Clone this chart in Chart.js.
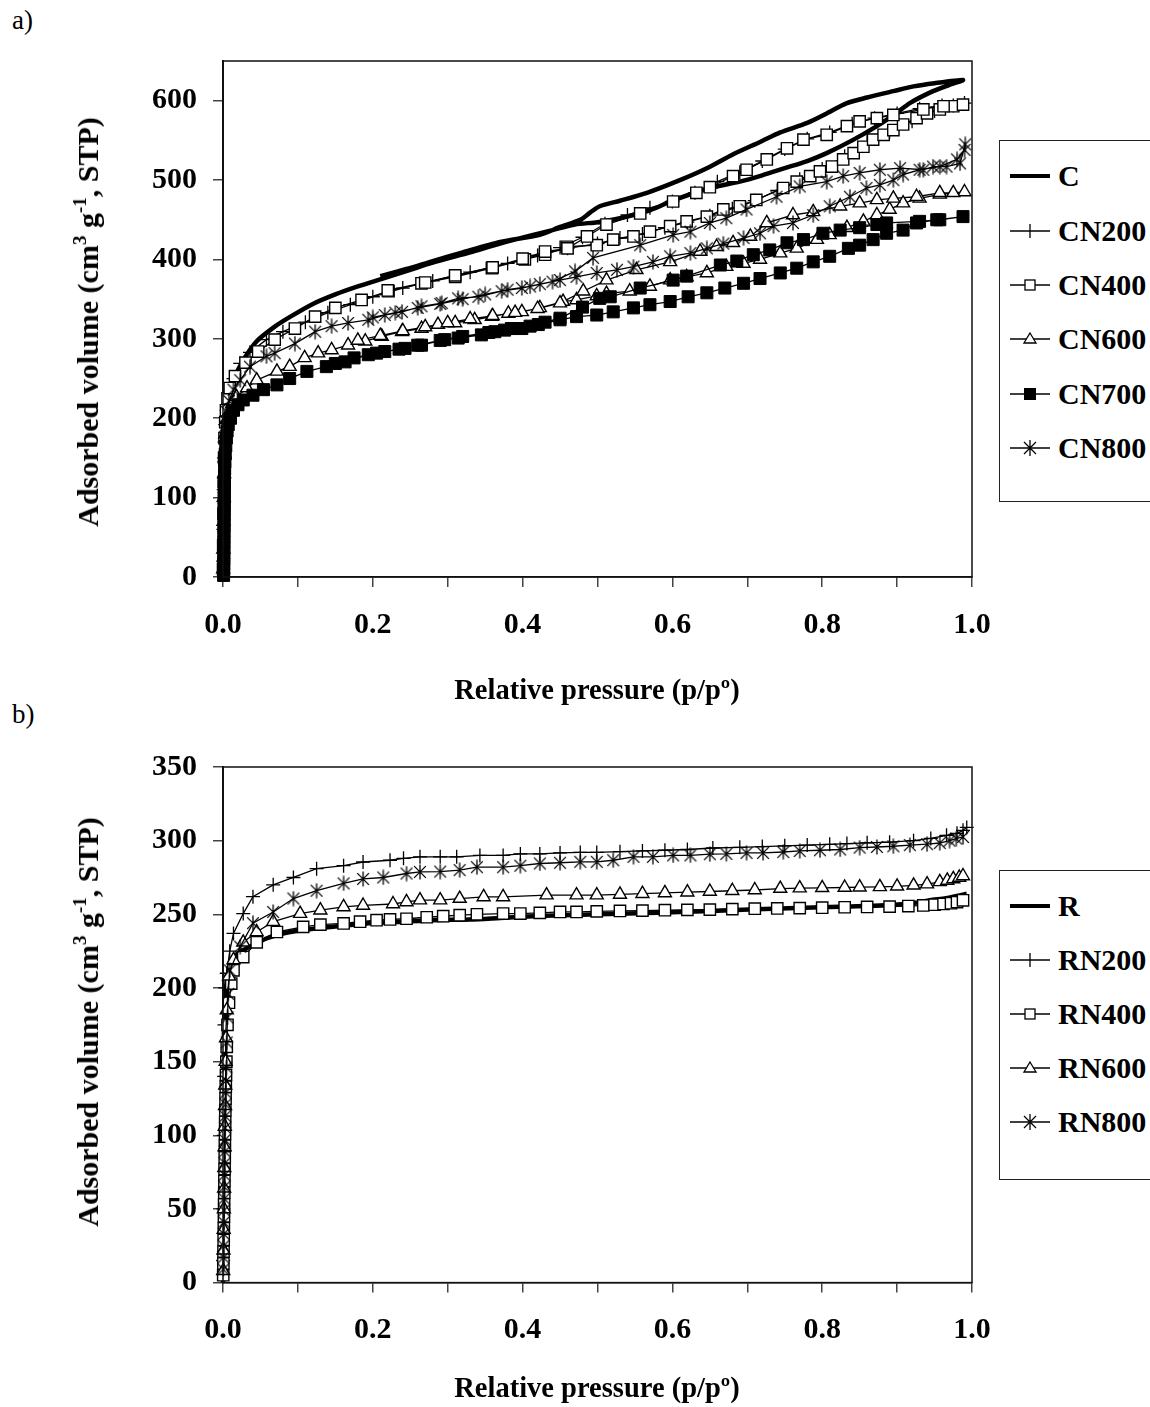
<!DOCTYPE html>
<html>
<head>
<meta charset="utf-8">
<script src="https://cdn.jsdelivr.net/npm/chart.js@4.4.0/dist/chart.umd.min.js"></script>
<style>
  html, body { margin: 0; padding: 0; background: #fff; }
  body { width: 1150px; height: 1407px; overflow: hidden; position: relative;
         font-family: "Liberation Serif", "Times New Roman", serif; color: #000; }
  canvas { position: absolute; left: 0; }
  .panel { position: absolute; left: 12px; font-size: 27px; }
  .ytitle { position: absolute; font-weight: bold; font-size: 30px; white-space: nowrap;
            transform: translate(-50%, -50%) rotate(-90deg); }
  .xtitle { position: absolute; font-weight: bold; font-size: 28.5px; white-space: nowrap;
            transform: translate(-50%, -50%); }
  sup { font-size: 19px; vertical-align: 12px; line-height: 0; }
  .legend { position: absolute; left: 999px; width: 175px; border: 1.5px solid #222; background: #fff; }
  .item { position: absolute; left: 10px; height: 30px; line-height: 30px; white-space: nowrap;
          font-weight: bold; font-size: 30px; }
  .item svg { position: absolute; left: 0; top: 5px; }
  .item span { position: absolute; left: 48px; top: 0; }
</style>
</head>
<body>
<div class="panel" style="top:5px">a)</div>
<div class="panel" style="top:699px">b)</div>

<canvas id="chartA" width="1000" height="700" style="top:0"></canvas>
<canvas id="chartB" width="1000" height="707" style="top:700px"></canvas>

<div class="ytitle" style="left:88px;top:322px">Adsorbed volume (cm<sup>3</sup> g<sup>-1</sup>, STP)</div>
<div class="xtitle" style="left:597px;top:690px">Relative pressure (p/pº)</div>
<div class="ytitle" style="left:88px;top:1022px">Adsorbed volume (cm<sup>3</sup> g<sup>-1</sup>, STP)</div>
<div class="xtitle" style="left:597px;top:1388px">Relative pressure (p/pº)</div>

<div class="legend" id="legendA" style="top:140px;height:360px"></div>
<div class="legend" id="legendB" style="top:870px;height:308px"></div>

<script>
// ---------- panel a) : C series ----------
const seriesA = ['C', 'CN200', 'CN400', 'CN600', 'CN700', 'CN800'];
const seriesB = ['R', 'RN200', 'RN400', 'RN600', 'RN800'];
const xTicks = [0, 0.2, 0.4, 0.6, 0.8, 1.0];

// adsorption branch followed by desorption branch
const cP = [0, 0.0005, 0.001, 0.002, 0.003, 0.005, 0.009, 0.015, 0.027, 0.045, 0.07, 0.09, 0.12, 0.15, 0.18, 0.21, 0.25, 0.28, 0.33, 0.37, 0.41, 0.44, 0.47, 0.50, 0.53, 0.57, 0.60, 0.65, 0.69, 0.72, 0.75, 0.78, 0.806, 0.84, 0.873, 0.9, 0.917, 0.948, 0.97, 0.988,
  0.95, 0.922, 0.895, 0.86, 0.833, 0.806, 0.78, 0.744, 0.717, 0.68, 0.646, 0.61, 0.566, 0.53, 0.503, 0.49, 0.477, 0.45, 0.423, 0.37, 0.32, 0.28, 0.245, 0.21];
const cV = [0, 100, 150, 180, 202, 218, 232, 250, 273, 297, 316, 328, 344, 356, 366, 375, 387, 396, 409, 420, 430, 437, 444, 447, 452, 462, 474, 490, 498, 506, 515, 524, 534, 550, 568, 585, 597, 612, 620, 626,
  622, 618, 612, 604, 597, 584, 572, 560, 548, 532, 515, 500, 484, 474, 467, 459, 450, 441, 431, 422, 409, 398, 388, 379];

const cn200P = [0.0002, 0.0005, 0.001, 0.0015, 0.002, 0.003, 0.005, 0.009, 0.014, 0.023, 0.036, 0.058, 0.08, 0.11, 0.14, 0.17, 0.2, 0.24, 0.28, 0.33, 0.38, 0.42, 0.46, 0.5, 0.53, 0.56, 0.59, 0.62, 0.65, 0.68, 0.71, 0.74, 0.77, 0.8, 0.83, 0.86, 0.89, 0.92, 0.95, 0.975, 0.99,
  0.96, 0.93, 0.9, 0.87, 0.84, 0.81, 0.78, 0.75, 0.72, 0.69, 0.66, 0.63, 0.6, 0.57, 0.54, 0.51, 0.48, 0.45];
const cn200V = [20, 60, 110, 145, 170, 192, 210, 232, 250, 269, 283, 299, 309, 321, 333, 343, 353, 364, 373, 384, 395, 405, 414, 420, 427, 432, 440, 447, 455, 464, 474, 487, 501, 514, 530, 548, 561, 574, 587, 594, 597,
  594, 590, 584, 578, 571, 560, 552, 539, 524, 510, 498, 484, 473, 465, 456, 445, 428, 415];

const cn400P = [0.0001, 0.0003, 0.0006, 0.001, 0.0015, 0.002, 0.003, 0.004, 0.006, 0.009, 0.016, 0.03, 0.047, 0.069, 0.096, 0.123, 0.15, 0.185, 0.221, 0.265, 0.31, 0.359, 0.403, 0.43, 0.459, 0.499, 0.521, 0.548, 0.57, 0.597, 0.619, 0.646, 0.668, 0.69, 0.712, 0.748, 0.766, 0.784, 0.797, 0.813, 0.828, 0.842, 0.855, 0.868, 0.882, 0.895, 0.908, 0.926, 0.94, 0.957, 0.975, 0.988,
  0.962, 0.935, 0.895, 0.873, 0.85, 0.833, 0.806, 0.775, 0.753, 0.726, 0.699, 0.681, 0.65, 0.632, 0.601, 0.557, 0.512, 0.486, 0.46, 0.43, 0.40, 0.36, 0.31, 0.27, 0.22];
const cn400V = [10, 40, 80, 120, 150, 175, 195, 210, 225, 238, 253, 270, 284, 299, 313, 328, 339, 349, 360, 370, 378, 389, 400, 406, 416, 418, 425, 429, 435, 442, 448, 454, 463, 467, 475, 490, 498, 505, 511, 517, 526, 534, 542, 551, 557, 563, 570, 578, 584, 589, 593, 595,
  593, 589, 582, 578, 574, 568, 557, 551, 540, 526, 513, 505, 491, 484, 473, 458, 444, 429, 414, 410, 401, 390, 380, 371, 361];

const cn600P = [0.0002, 0.0004, 0.0007, 0.001, 0.0015, 0.002, 0.003, 0.005, 0.008, 0.012, 0.018, 0.032, 0.045, 0.072, 0.089, 0.109, 0.127, 0.145, 0.167, 0.19, 0.212, 0.239, 0.265, 0.287, 0.31, 0.336, 0.359, 0.381, 0.399, 0.423, 0.454, 0.472, 0.499, 0.512, 0.543, 0.57, 0.597, 0.619, 0.646, 0.672, 0.695, 0.717, 0.744, 0.766, 0.793, 0.81, 0.833, 0.855, 0.873, 0.89, 0.908, 0.93, 0.957, 0.99,
  0.975, 0.957, 0.926, 0.895, 0.873, 0.85, 0.824, 0.788, 0.761, 0.726, 0.704, 0.681, 0.659, 0.637, 0.597, 0.552, 0.512, 0.481, 0.45, 0.42, 0.39, 0.36, 0.33, 0.3, 0.27, 0.24, 0.21, 0.18];
const cn600V = [10, 35, 70, 100, 130, 155, 180, 198, 208, 218, 227, 238, 248, 259, 265, 276, 282, 286, 292, 297, 303, 309, 313, 318, 320, 324, 328, 332, 334, 339, 347, 349, 354, 357, 360, 366, 374, 378, 383, 391, 395, 400, 408, 414, 425, 431, 440, 448, 456, 463, 471, 477, 482, 485,
  484, 484, 479, 477, 475, 471, 467, 460, 456, 446, 429, 421, 416, 410, 397, 387, 374, 360, 345, 338, 333, 329, 325, 320, 315, 310, 304, 298];

const cn700P = [0.0008, 0.0009, 0.001, 0.0011, 0.0011, 0.0012, 0.0012, 0.0013, 0.0013, 0.0014, 0.0014, 0.0015, 0.0015, 0.0016, 0.0016, 0.0017, 0.0018, 0.0019, 0.002, 0.0022, 0.0025, 0.003, 0.0037, 0.0045, 0.0055, 0.007, 0.01, 0.014, 0.02, 0.027, 0.04, 0.054, 0.072, 0.089, 0.112, 0.138, 0.163, 0.194, 0.216, 0.243, 0.265, 0.296, 0.314, 0.345, 0.363, 0.376, 0.399, 0.421, 0.45, 0.472, 0.499, 0.521, 0.548, 0.57, 0.597, 0.621, 0.646, 0.67, 0.695, 0.717, 0.744, 0.766, 0.788, 0.81, 0.835, 0.85, 0.868, 0.886, 0.908, 0.926, 0.953, 0.988,
  0.957, 0.93, 0.886, 0.873, 0.85, 0.824, 0.801, 0.775, 0.753, 0.73, 0.708, 0.686, 0.664, 0.619, 0.601, 0.557, 0.517, 0.503, 0.48, 0.45, 0.43, 0.41, 0.385, 0.355, 0.32, 0.29, 0.26, 0.235, 0.205, 0.175, 0.15];
const cn700V = [2, 9, 16, 23, 30, 37, 44, 51, 58, 65, 72, 79, 86, 93, 100, 107, 114, 121, 128, 136, 145, 155, 165, 175, 184, 192, 200, 210, 217, 223, 229, 236, 242, 250, 259, 265, 271, 280, 284, 288, 292, 299, 301, 305, 309, 311, 313, 318, 324, 328, 330, 334, 339, 343, 347, 353, 358, 364, 370, 376, 383, 389, 397, 404, 414, 418, 425, 433, 437, 446, 450, 454,
  450, 448, 446, 444, 440, 437, 433, 425, 421, 412, 406, 398, 393, 379, 374, 364, 353, 351, 340, 326, 321, 316, 313, 308, 303, 298, 292, 287, 282, 276, 269];

const cn800P = [0.0002, 0.0005, 0.001, 0.0015, 0.002, 0.003, 0.005, 0.008, 0.014, 0.023, 0.036, 0.058, 0.069, 0.096, 0.123, 0.145, 0.167, 0.194, 0.216, 0.239, 0.265, 0.292, 0.314, 0.341, 0.372, 0.399, 0.423, 0.45, 0.472, 0.499, 0.526, 0.548, 0.574, 0.597, 0.624, 0.646, 0.668, 0.695, 0.717, 0.735, 0.761, 0.788, 0.81, 0.837, 0.859, 0.877, 0.895, 0.908, 0.93, 0.957, 0.98, 0.99,
  0.991, 0.984, 0.966, 0.948, 0.935, 0.904, 0.877, 0.85, 0.828, 0.806, 0.77, 0.739, 0.699, 0.672, 0.65, 0.624, 0.601, 0.557, 0.494, 0.47, 0.44, 0.41, 0.38, 0.35, 0.32, 0.29, 0.26, 0.23, 0.2];
const cn800V = [15, 50, 100, 140, 165, 190, 208, 222, 236, 248, 265, 278, 282, 294, 309, 316, 320, 324, 330, 334, 341, 345, 351, 353, 360, 364, 369, 374, 378, 383, 387, 391, 397, 404, 408, 414, 420, 427, 433, 442, 446, 456, 467, 479, 490, 494, 500, 507, 513, 517, 526, 538,
  545, 521, 517, 517, 513, 515, 513, 509, 505, 498, 492, 479, 463, 452, 446, 435, 431, 418, 402, 385, 372, 366, 362, 356, 350, 344, 339, 333, 327];

// ---------- panel b) : R series ----------
const rP = [0, 0.0003, 0.0007, 0.001, 0.002, 0.004, 0.007, 0.014, 0.025, 0.036, 0.058, 0.08, 0.103, 0.147, 0.192, 0.24, 0.281, 0.33, 0.37, 0.43, 0.503, 0.58, 0.66, 0.744, 0.81, 0.877, 0.92, 0.944, 0.965, 0.98, 0.993];
const rV = [0, 60, 120, 160, 185, 200, 210, 221, 225, 228, 233.6, 237, 239, 241.5, 243.8, 245, 246, 246.5, 247.5, 249, 250, 251, 252.5, 254, 255, 256, 257.5, 259.6, 261, 262.5, 264];

const rn200P = [0.0002, 0.0005, 0.001, 0.0015, 0.002, 0.003, 0.005, 0.009, 0.014, 0.027, 0.04, 0.067, 0.094, 0.125, 0.161, 0.187, 0.223, 0.241, 0.263, 0.29, 0.312, 0.343, 0.374, 0.397, 0.423, 0.45, 0.477, 0.499, 0.53, 0.56, 0.59, 0.62, 0.654, 0.69, 0.72, 0.75, 0.78, 0.81, 0.833, 0.86, 0.89, 0.922, 0.945, 0.966, 0.98, 0.988, 0.993];
const rn200V = [15, 50, 100, 140, 175, 200, 210, 225, 237, 250.5, 262, 270, 275, 281, 283, 285.5, 286.7, 288, 289, 289, 289, 290, 290, 291, 291, 291.7, 292, 292, 292.5, 293, 293.5, 294, 295, 295.5, 296, 296.5, 297, 297.5, 298, 298.5, 299, 300, 301.5, 303.6, 305, 307, 309];

const rn400P = [0.0003, 0.0005, 0.0007, 0.0009, 0.0011, 0.0013, 0.0015, 0.0017, 0.0019, 0.0021, 0.0023, 0.0025, 0.0027, 0.0029, 0.0031, 0.0034, 0.0037, 0.004, 0.0045, 0.005, 0.006, 0.008, 0.011, 0.014, 0.027, 0.045, 0.072, 0.107, 0.13, 0.161, 0.183, 0.205, 0.223, 0.245, 0.272, 0.294, 0.316, 0.339, 0.374, 0.397, 0.423, 0.45, 0.472, 0.499, 0.53, 0.56, 0.59, 0.62, 0.65, 0.68, 0.71, 0.74, 0.77, 0.8, 0.83, 0.86, 0.89, 0.915, 0.935, 0.95, 0.962, 0.972, 0.98, 0.988];
const rn400V = [5, 13, 21, 29, 37, 45, 53, 61, 69, 77, 85, 93, 101, 109, 117, 125, 133, 141, 150, 160, 175, 190, 203, 212, 221, 231, 238, 241.5, 243, 243.8, 245, 246, 246.5, 247, 248, 248.7, 249.4, 250, 250.5, 250.5, 251, 251.6, 251.6, 252, 252.3, 252.5, 252.8, 253, 253.2, 253.5, 253.8, 254, 254.2, 254.5, 254.8, 255, 255.2, 255.6, 256, 256.5, 257, 257.5, 258.3, 259.5];

const rn600P = [0.0003, 0.0006, 0.0009, 0.0012, 0.0015, 0.0018, 0.0021, 0.0024, 0.0027, 0.003, 0.0035, 0.004, 0.005, 0.008, 0.014, 0.027, 0.045, 0.067, 0.103, 0.13, 0.161, 0.187, 0.227, 0.245, 0.263, 0.29, 0.316, 0.348, 0.374, 0.432, 0.472, 0.499, 0.53, 0.56, 0.59, 0.62, 0.65, 0.68, 0.71, 0.744, 0.77, 0.8, 0.83, 0.85, 0.877, 0.9, 0.922, 0.94, 0.957, 0.967, 0.975, 0.983, 0.988];
const rn600V = [8, 22, 36, 50, 64, 78, 92, 106, 120, 134, 150, 166, 185, 208, 219, 231, 238, 245, 250.5, 252.8, 255, 256, 257, 258.4, 259.6, 259.6, 260.7, 261.8, 261.8, 263, 263, 263, 263.5, 264, 264.5, 265, 265.5, 266, 266.5, 267.5, 267.8, 268, 268.2, 268.4, 268.6, 269, 269.7, 270.5, 272, 273, 274, 275, 276];

const rn800P = [0.0004, 0.0006, 0.0008, 0.001, 0.0012, 0.0014, 0.0016, 0.0018, 0.002, 0.0022, 0.0024, 0.0026, 0.0028, 0.003, 0.0033, 0.0036, 0.004, 0.0045, 0.005, 0.006, 0.007, 0.009, 0.023, 0.04, 0.067, 0.094, 0.125, 0.161, 0.187, 0.214, 0.245, 0.263, 0.29, 0.316, 0.339, 0.374, 0.397, 0.423, 0.45, 0.477, 0.499, 0.521, 0.548, 0.574, 0.601, 0.624, 0.65, 0.672, 0.699, 0.721, 0.748, 0.77, 0.797, 0.824, 0.85, 0.873, 0.895, 0.917, 0.94, 0.957, 0.97, 0.979, 0.988];
const rn800V = [9, 17, 25, 33, 41, 49, 57, 65, 73, 81, 89, 97, 105, 113, 121, 129, 137, 146, 163, 180, 196, 212, 228, 244, 251.6, 260.7, 266, 271, 274, 275, 277.7, 278.8, 279, 280, 282, 282, 283, 284.5, 285, 285.6, 285.6, 286.7, 289, 289, 290, 290, 290.8, 291, 291.7, 291.7, 292.3, 293, 293.5, 294, 295.3, 295.7, 296.2, 297, 297.6, 298.4, 300, 301.4, 302.5, 303.6];

// asterisk marker: vertical bar plus X, as in the original
function makeStar(size) {
  const c = document.createElement('canvas');
  c.width = c.height = size;
  const g = c.getContext('2d');
  const m = size / 2, r = size / 2 - 0.5, d = r * 0.78;
  g.strokeStyle = '#000';
  g.lineWidth = 1.3;
  g.beginPath();
  g.moveTo(m, m - r); g.lineTo(m, m + r);
  g.moveTo(m - d, m - d); g.lineTo(m + d, m + d);
  g.moveTo(m + d, m - d); g.lineTo(m - d, m + d);
  g.stroke();
  return c;
}
const star = makeStar(16);

const styles = {
  thick:  { pointRadius: 0, borderWidth: 4.5, tension: 0.25 },
  plus:   { pointStyle: 'cross', pointRadius: 7, pointBorderWidth: 1.3, pointBackgroundColor: '#fff' },
  square: { pointStyle: 'rect', pointRadius: 8, pointBorderWidth: 1.4, pointBackgroundColor: '#fff' },
  tri:    { pointStyle: 'triangle', pointRadius: 7.5, pointBorderWidth: 1.4, pointBackgroundColor: '#fff' },
  fill:   { pointStyle: 'rect', pointRadius: 8.5, pointBorderWidth: 1, pointBackgroundColor: '#000' },
  star:   { pointStyle: star, pointRadius: 7 },
};

function ds(label, P, V, style, i, n) {
  return Object.assign({
    label,
    data: P.map((p, k) => ({ x: p, y: V[k] })),
    showLine: true,
    borderColor: '#000',
    borderWidth: 1.3,
    pointBorderColor: '#000',
    tension: 0,
    clip: false,
    order: n - i,
  }, styles[style]);
}

const boxPlugin = {
  id: 'box',
  afterDraw(chart) {
    const a = chart.chartArea, ctx = chart.ctx;
    ctx.save();
    ctx.strokeStyle = '#111';
    ctx.lineWidth = 1.5;
    ctx.strokeRect(a.left, a.top, a.right - a.left, a.bottom - a.top);
    ctx.restore();
  }
};

const tickFont = { family: '"Liberation Serif", "Times New Roman", serif', size: 30, weight: 'bold' };

function makeChart(id, datasets, yMax, yStep, padTop, xHeight) {
  return new Chart(document.getElementById(id), {
    type: 'scatter',
    data: { datasets },
    plugins: [boxPlugin],
    options: {
      responsive: false,
      animation: false,
      devicePixelRatio: 1,
      layout: { padding: { top: padTop, right: 28, left: 0, bottom: 0 } },
      plugins: { legend: { display: false }, tooltip: { enabled: false } },
      scales: {
        x: {
          type: 'linear', min: 0, max: 1,
          afterFit: (s) => { s.height = xHeight; s.paddingLeft = 0; s.paddingRight = 0; },
          border: { display: true, color: '#111', width: 1.5 },
          grid: { drawOnChartArea: false, drawTicks: true, tickLength: 10, color: '#444', lineWidth: 1.5 },
          ticks: {
            stepSize: 0.1, padding: 20, color: '#000', font: tickFont, maxRotation: 0, autoSkip: false,
            callback: (v) => xTicks.some((t) => Math.abs(t - v) < 1e-6) ? v.toFixed(1) : ''
          }
        },
        y: {
          type: 'linear', min: 0, max: yMax,
          afterFit: (s) => { s.width = 223; s.paddingTop = 0; s.paddingBottom = 0; },
          border: { display: true, color: '#111', width: 2 },
          grid: { drawOnChartArea: false, drawTicks: true, tickLength: 10, color: '#444', lineWidth: 1.5 },
          ticks: { stepSize: yStep, includeBounds: false, padding: 16, color: '#000', font: tickFont }
        }
      }
    }
  });
}

const kindsA = ['thick', 'plus', 'square', 'tri', 'fill', 'star'];
const dataA = [[cP, cV], [cn200P, cn200V], [cn400P, cn400V], [cn600P, cn600V], [cn700P, cn700V], [cn800P, cn800V]];
makeChart('chartA', seriesA.map((s, i) => ds(s, dataA[i][0], dataA[i][1], kindsA[i], i, seriesA.length)), 650, 100, 61, 123);

const kindsB = ['thick', 'plus', 'square', 'tri', 'star'];
const dataB = [[rP, rV], [rn200P, rn200V], [rn400P, rn400V], [rn600P, rn600V], [rn800P, rn800V]];
makeChart('chartB', seriesB.map((s, i) => ds(s, dataB[i][0], dataB[i][1], kindsB[i], i, seriesB.length)), 350, 50, 67, 124.4);

// ---------- HTML legends ----------
function symbol(kind) {
  const line = kind === 'thick'
    ? '<line x1="0" y1="10" x2="40" y2="10" stroke="#000" stroke-width="4"/>'
    : '<line x1="0" y1="10" x2="40" y2="10" stroke="#000" stroke-width="1.3"/>';
  let mk = '';
  if (kind === 'plus') mk = '<path d="M20 3V17" stroke="#000" stroke-width="1.3"/>';
  if (kind === 'square') mk = '<rect x="15" y="5" width="10" height="10" fill="#fff" stroke="#000" stroke-width="1.3"/>';
  if (kind === 'tri') mk = '<path d="M20 4L26 14H14Z" fill="#fff" stroke="#000" stroke-width="1.3"/>';
  if (kind === 'fill') mk = '<rect x="14" y="4" width="12" height="12" fill="#000"/>';
  if (kind === 'star') mk = '<path d="M20 2V18M14 4L26 16M26 4L14 16" stroke="#000" stroke-width="1.3"/>';
  return '<svg width="42" height="20">' + line + mk + '</svg>';
}
function fillLegend(id, names, kinds, rows) {
  document.getElementById(id).innerHTML = names.map((n, i) =>
    '<div class="item" style="top:' + (rows[i] - 15) + 'px">' + symbol(kinds[i]) + '<span>' + n + '</span></div>'
  ).join('');
}
fillLegend('legendA', seriesA, kindsA, [35, 90, 144, 198, 253, 307]);
fillLegend('legendB', seriesB, kindsB, [35, 89, 143, 197, 251]);
</script>
</body>
</html>
